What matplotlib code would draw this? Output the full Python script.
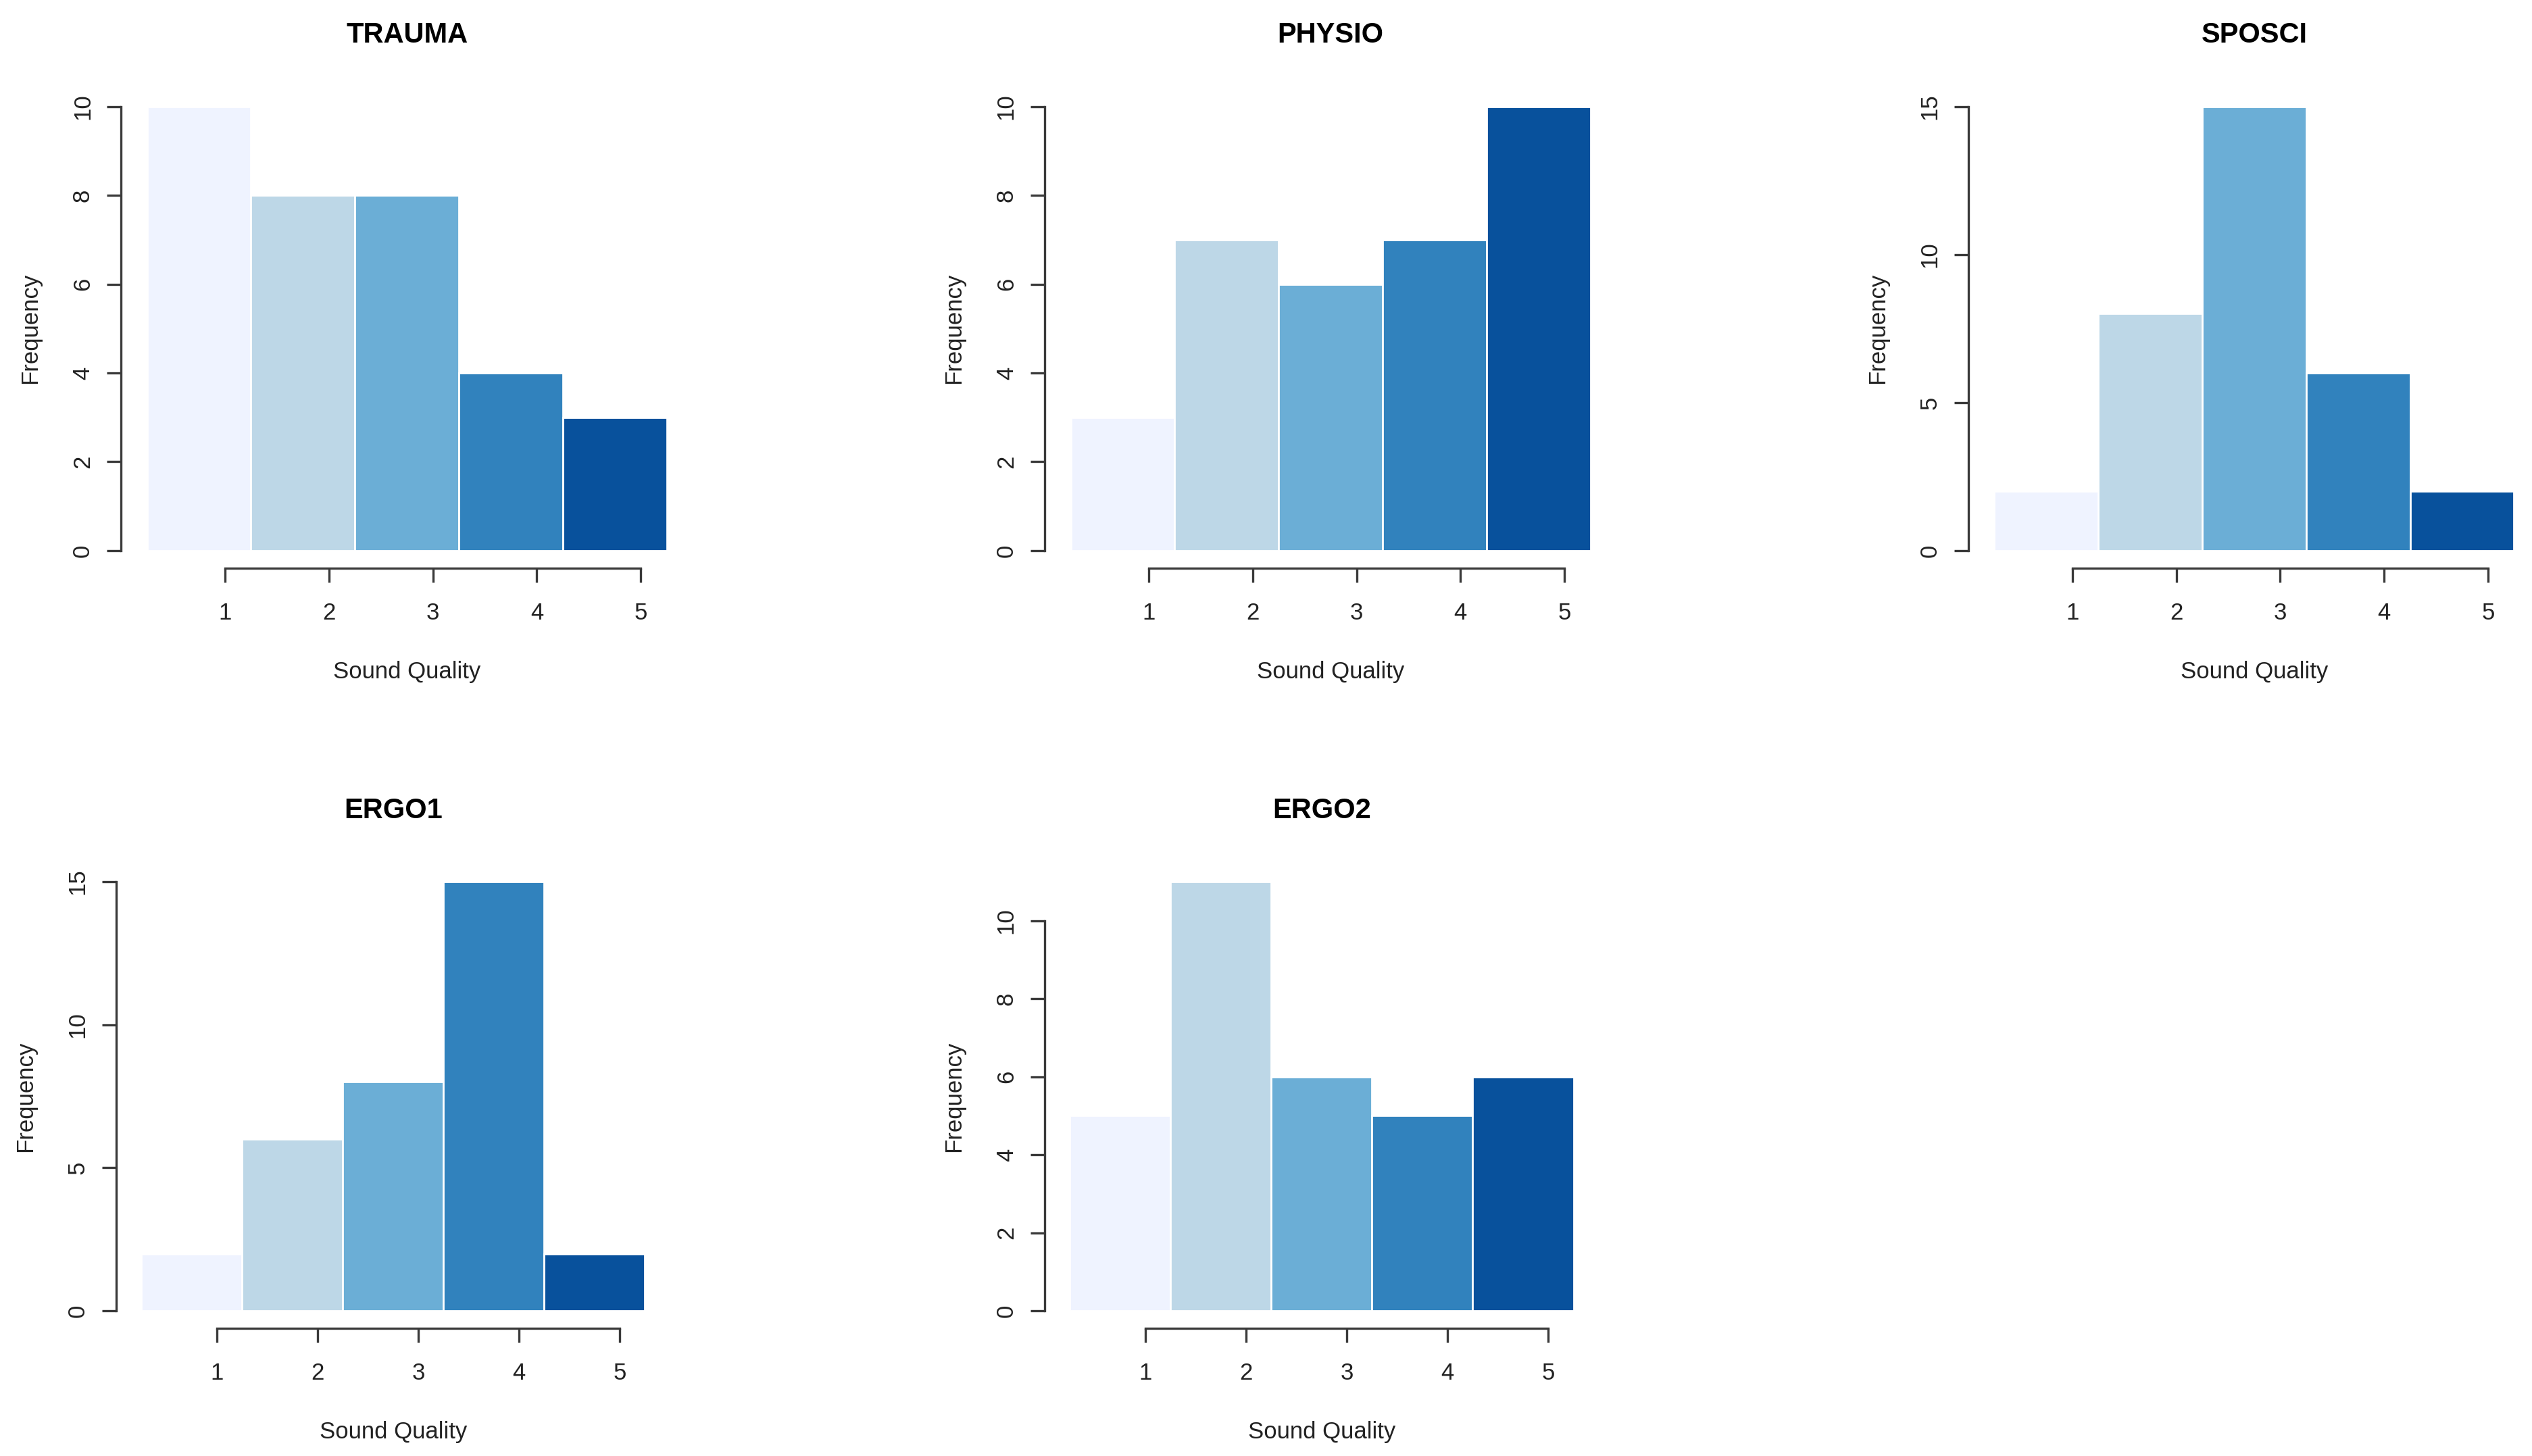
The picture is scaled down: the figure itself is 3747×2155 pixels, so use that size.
"""Sound quality histograms per group, R base-graphics look."""

from __future__ import annotations

import matplotlib

matplotlib.use("Agg")
import matplotlib.pyplot as plt

plt.rcParams["font.family"] = ["Liberation Sans", "DejaVu Sans"]

SCORES = [1, 2, 3, 4, 5]
BLUES = ["#EFF3FF", "#BDD7E7", "#6BAED6", "#3182BD", "#08519C"]

TRAUMA = [10, 8, 8, 4, 3]
PHYSIO = [3, 7, 6, 7, 10]
SPOSCI = [2, 8, 15, 6, 2]
ERGO1 = [2, 6, 8, 15, 2]
ERGO2 = [5, 11, 6, 5, 6]

TRAUMA_TICKS = [0, 2, 4, 6, 8, 10]
PHYSIO_TICKS = [0, 2, 4, 6, 8, 10]
SPOSCI_TICKS = [0, 5, 10, 15]
ERGO1_TICKS = [0, 5, 10, 15]
ERGO2_TICKS = [0, 2, 4, 6, 8, 10]

W, H = 3747, 2155
DPI = 100
AXIS_COLOR = "#3a3a3a"


def _frac(x_px: float, y_top_px: float, w_px: float, h_px: float) -> list[float]:
    """Convert a pixel box (measured on a 1568-wide preview) to figure fractions."""
    s = W / 1568.0
    return [x_px * s / W, 1 - (y_top_px + h_px) * s / H, w_px * s / W, h_px * s / H]


def _hist_panel(fig, box, title, counts, yticks):
    ax = fig.add_axes(box)
    ymax = max(counts)
    # R-style 4% padding on the y range
    ax.bar([s - 0.25 for s in SCORES], counts, width=1.0, color=BLUES,
           edgecolor="white", linewidth=2.0)
    ax.set_xlim(0, 5.5)
    ax.set_ylim(-0.04 * ymax, 1.04 * ymax)
    for side in ("top", "right"):
        ax.spines[side].set_visible(False)
    ax.spines["left"].set_position(("data", 0))
    ax.spines["left"].set_bounds(yticks[0], yticks[-1])
    ax.spines["bottom"].set_position(("data", -0.04 * ymax))
    ax.spines["bottom"].set_bounds(1, 5)
    for side in ("left", "bottom"):
        ax.spines[side].set_color(AXIS_COLOR)
        ax.spines[side].set_linewidth(2.4)
    ax.set_xticks(SCORES)
    ax.set_yticks(yticks)
    ax.set_yticklabels([str(t) for t in yticks], rotation=90, va="center")
    ax.tick_params(axis="both", length=15, width=2.4, color=AXIS_COLOR,
                   labelsize=25, labelcolor="#222222")
    ax.tick_params(axis="x", pad=21)
    ax.tick_params(axis="y", pad=14)
    ax.set_xlabel("Sound Quality", fontsize=25, color="#222222", labelpad=39)
    ax.set_ylabel("Frequency", fontsize=25, color="#222222", labelpad=32)
    ax.set_title(title, fontsize=30, fontweight="bold", pad=49)
    ax.patch.set_alpha(0)
    return ax


def main() -> int:
    fig = plt.figure(figsize=(W / DPI, H / DPI), dpi=DPI)
    fig.patch.set_facecolor("white")

    top_w, top_h = 354, 297
    _hist_panel(fig, _frac(75, 55, top_w, top_h), "TRAUMA", TRAUMA, TRAUMA_TICKS)
    _hist_panel(fig, _frac(647, 55, top_w, top_h), "PHYSIO", PHYSIO, PHYSIO_TICKS)
    _hist_panel(fig, _frac(1219, 55, top_w, top_h), "SPOSCI", SPOSCI, SPOSCI_TICKS)

    bot_w, bot_h = 343, 287.2
    _hist_panel(fig, _frac(72, 535.4, bot_w, bot_h), "ERGO1", ERGO1, ERGO1_TICKS)
    _hist_panel(fig, _frac(647, 535.4, bot_w, bot_h), "ERGO2", ERGO2, ERGO2_TICKS)

    fig.savefig("out.png", dpi=DPI, facecolor="white")
    plt.close(fig)
    return 0


if __name__ == "__main__":
    raise SystemExit(main())
